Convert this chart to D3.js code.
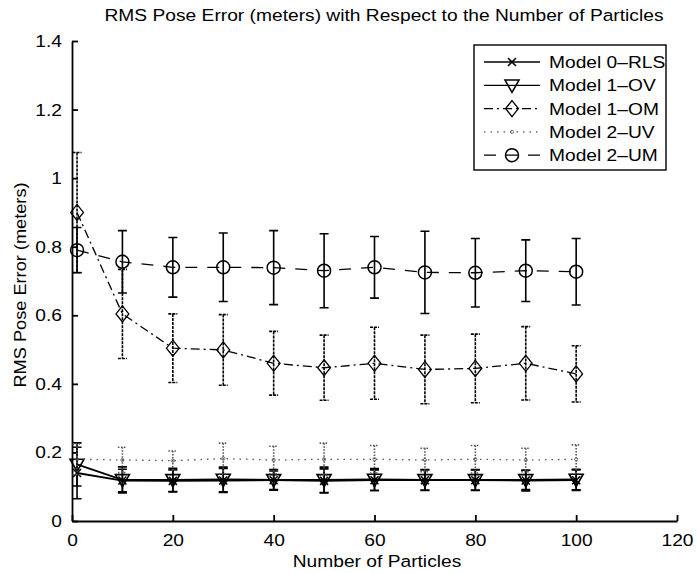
<!DOCTYPE html>
<html><head><meta charset="utf-8">
<script src="https://cdn.jsdelivr.net/npm/d3@7"></script>
<style>body{margin:0;background:#fff}svg{display:block;font-family:"Liberation Sans",Arial,sans-serif}</style>
</head><body><svg id="c" width="698" height="573"></svg>
<script>
const particles = [1,10,20,30,40,50,60,70,80,90,100];
const xTicks = [0,20,40,60,80,100,120];
const yTicks = [0,0.2,0.4,0.6,0.8,1,1.2,1.4];
const yTickLabels = ["0","0.2","0.4","0.6","0.8","1","1.2","1.4"];

const rlsMean = [0.140,0.118,0.117,0.118,0.119,0.117,0.119,0.119,0.119,0.118,0.119];
const rlsErr  = [0.075,0.033,0.032,0.035,0.027,0.035,0.030,0.030,0.030,0.030,0.030];
const ovMean  = [0.165,0.120,0.120,0.121,0.120,0.120,0.121,0.120,0.120,0.120,0.121];
const ovErr   = [0.063,0.038,0.034,0.036,0.030,0.037,0.032,0.030,0.030,0.028,0.030];
const omMean  = [0.900,0.604,0.504,0.499,0.460,0.447,0.460,0.442,0.445,0.460,0.429];
const omErr   = [0.175,0.130,0.100,0.103,0.093,0.095,0.105,0.100,0.100,0.107,0.082];
const uvMean  = [0.180,0.178,0.176,0.182,0.178,0.180,0.180,0.178,0.180,0.178,0.180];
const uvErr   = [0.045,0.037,0.028,0.045,0.040,0.047,0.040,0.034,0.040,0.034,0.042];
const umMean  = [0.790,0.756,0.740,0.740,0.739,0.730,0.740,0.725,0.724,0.730,0.727];
const umErr   = [0.066,0.091,0.087,0.100,0.108,0.108,0.090,0.120,0.100,0.090,0.097];

const seriesNames = ["Model 0–RLS","Model 1–OV","Model 1–OM","Model 2–UV","Model 2–UM"];

const series = [
  {name:seriesNames[0], mean:rlsMean, err:rlsErr, dash:null, color:"#000", marker:"x", errDash:null, lw:1.8},
  {name:seriesNames[1], mean:ovMean, err:ovErr, dash:null, color:"#000", marker:"tri", errDash:null, lw:1.8},
  {name:seriesNames[2], mean:omMean, err:omErr, dash:"9,4,2,4", color:"#000", marker:"dia", errDash:"3,1", lw:1.3},
  {name:seriesNames[3], mean:uvMean, err:uvErr, dash:"1.5,5", color:"#555", marker:"dot", errDash:"1.5,1.5", lw:1.3},
  {name:seriesNames[4], mean:umMean, err:umErr, dash:"12,10", color:"#000", marker:"circ", errDash:null, lw:1.3}
];

const SX = 1.13, FS = 17;
const svg = d3.select("#c");
const x = d3.scaleLinear().domain([0,120]).range([72,677]);
const y = d3.scaleLinear().domain([0,1.4]).range([521,41]);

function label(px, py, str, anchor, sx, rot){
  const g = svg.append("g").attr("transform",`translate(${px},${py})${rot?` rotate(${rot})`:""} scale(${sx},1)`);
  g.append("text").attr("text-anchor",anchor).attr("font-size",FS).attr("fill","#000").text(str);
  return g;
}

// title
label(384, 21, "RMS Pose Error (meters) with Respect to the Number of Particles", "middle", SX);

// axes
const gx = svg.append("g").attr("transform","translate(0,521)")
  .call(d3.axisBottom(x).tickValues(xTicks).tickSizeInner(-6).tickSizeOuter(0).tickPadding(13).tickFormat(d3.format("d")));
const gy = svg.append("g").attr("transform","translate(72,0)")
  .call(d3.axisLeft(y).tickValues(yTicks).tickSizeInner(-6).tickSizeOuter(0).tickPadding(10)
    .tickFormat((d,i)=>yTickLabels[i]));
[gx,gy].forEach(g=>{
  g.selectAll("path.domain").attr("stroke","#000").attr("stroke-width",1.8);
  g.selectAll(".tick line").attr("stroke","#000").attr("stroke-width",1.8);
  g.selectAll(".tick text").attr("font-size",FS).attr("fill","#000")
   .attr("font-family","'Liberation Sans',Arial,sans-serif");
});
gx.selectAll(".tick text").attr("transform",`scale(${SX},1)`);
gy.selectAll(".tick text").attr("x",-10/SX).attr("transform",`scale(${SX},1)`);

label(377, 567, "Number of Particles", "middle", SX);
label(26, 285, "RMS Pose Error (meters)", "middle", 1.07, -90);

function drawMarker(g, type, cx, cy, color){
  if(type==="x"){
    const s=4;
    g.append("path").attr("d",`M${cx-s},${cy-s}L${cx+s},${cy+s}M${cx-s},${cy+s}L${cx+s},${cy-s}`)
      .attr("stroke",color).attr("stroke-width",1.6).attr("fill","none");
  } else if(type==="tri"){
    const s=7;
    g.append("path").attr("d",`M${cx-s},${cy-s*0.75}L${cx+s},${cy-s*0.75}L${cx},${cy+s}Z`)
      .attr("stroke",color).attr("stroke-width",1.6).attr("fill","none");
  } else if(type==="dia"){
    const s=8;
    g.append("path").attr("d",`M${cx},${cy-s}L${cx+s*0.8},${cy}L${cx},${cy+s}L${cx-s*0.8},${cy}Z`)
      .attr("stroke",color).attr("stroke-width",1.3).attr("fill","none");
  } else if(type==="circ"){
    g.append("circle").attr("cx",cx).attr("cy",cy).attr("r",6.5)
      .attr("stroke",color).attr("stroke-width",1.5).attr("fill","none");
  } else if(type==="dot"){
    g.append("circle").attr("cx",cx).attr("cy",cy).attr("r",1.6)
      .attr("stroke",color).attr("stroke-width",0.8).attr("fill","none");
  }
}

const line = d3.line().x(d=>x(d.p)).y(d=>y(d.m));
series.forEach(s=>{
  const g = svg.append("g");
  const data = particles.map((p,i)=>({p, m:s.mean[i], e:s.err[i]}));
  data.forEach(d=>{
    const cx=x(d.p), t=y(d.m+d.e), b=y(d.m-d.e), w=4.5;
    g.append("path").attr("d",`M${cx},${t}L${cx},${b}M${cx-w},${t}L${cx+w},${t}M${cx-w},${b}L${cx+w},${b}`)
      .attr("stroke",s.color).attr("stroke-width",1.6).attr("fill","none")
      .attr("stroke-dasharray",s.errDash);
  });
  g.append("path").datum(data).attr("d",line).attr("fill","none")
    .attr("stroke",s.color).attr("stroke-width",s.lw).attr("stroke-dasharray",s.dash);
  data.forEach(d=>drawMarker(g,s.marker,x(d.p),y(d.m),s.color));
});

// legend
const lg = svg.append("g");
lg.append("rect").attr("x",474).attr("y",45).attr("width",192).attr("height",125)
  .attr("fill","#fff").attr("stroke","#000").attr("stroke-width",1.4);
series.forEach((s,i)=>{
  const cy = 62 + i*23.3;
  lg.append("line").attr("x1",484).attr("x2",540).attr("y1",cy).attr("y2",cy)
    .attr("stroke",s.color).attr("stroke-width",1.3).attr("stroke-dasharray",s.dash);
  drawMarker(lg,s.marker,512,cy,s.color);
  const t = lg.append("g").attr("transform",`translate(549,${cy+6}) scale(${SX},1)`);
  t.append("text").attr("font-size",FS).attr("fill","#000").text(s.name);
});
</script></body></html>
